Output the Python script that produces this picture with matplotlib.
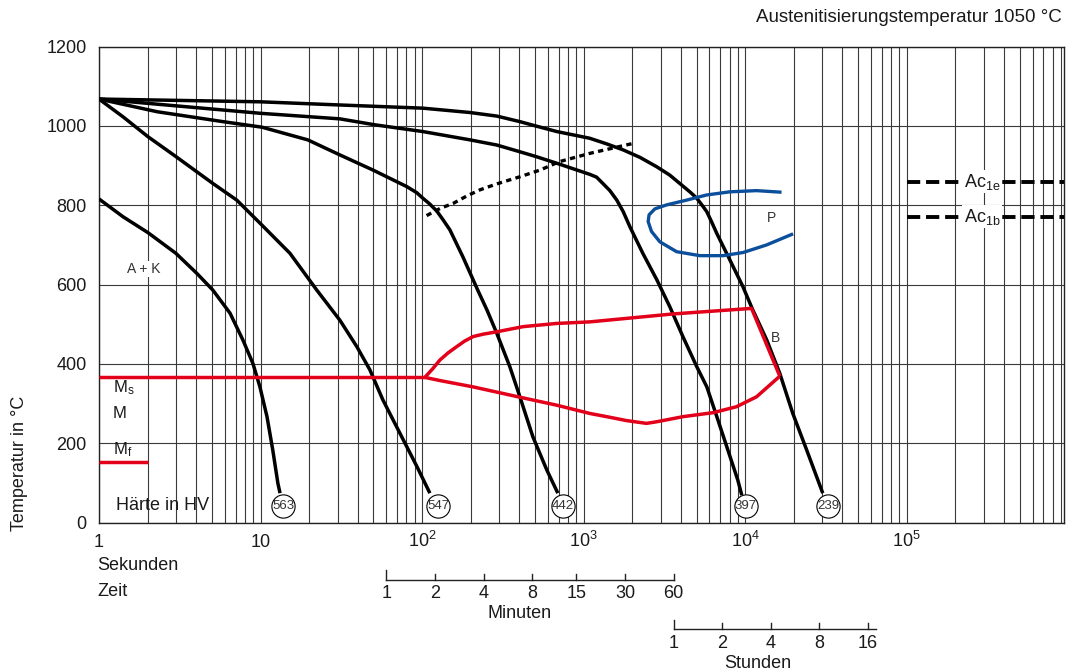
import numpy as np
import matplotlib
matplotlib.use("Agg")
import matplotlib.pyplot as plt
from matplotlib.ticker import FixedLocator, NullFormatter

plt.rcParams['font.family'] = ['Liberation Sans', 'DejaVu Sans']
plt.rcParams['mathtext.fontset'] = 'custom'
plt.rcParams['mathtext.rm'] = 'Liberation Sans'
plt.rcParams['mathtext.it'] = 'Liberation Sans:italic'
plt.rcParams['mathtext.bf'] = 'Liberation Sans:bold'

# ---------------- data (time in s, temperature in °C) ----------------
cool_239_t = [1, 10, 31, 101, 198, 290, 403, 506, 682, 1092, 1386, 1749, 2228, 2838, 3415,
              3936, 4540, 5010, 5480, 5780, 6180, 6670, 8040, 9670, 11140, 13600, 16370,
              19700, 24000, 30200]
cool_239_T = [1068, 1061, 1053, 1045, 1034, 1025, 1011, 1000, 986, 969, 955, 940, 921, 897, 876,
              855, 834, 818, 797, 784, 759, 729, 662, 595, 536, 460, 376,
              275, 183, 74]

cool_397_t = [1, 10, 31, 51, 101, 198, 290, 403, 506, 682, 1092, 1202, 1315, 1453, 1604, 1757,
              1932, 2323, 2838, 3415, 4111, 5012, 5786, 6670, 7690, 8995, 9520]
cool_397_T = [1068, 1032, 1018, 1003, 986, 965, 952, 935, 923, 906, 878, 871, 855, 837, 813, 784,
              746, 679, 612, 544, 469, 393, 342, 267, 191, 107, 69]

cool_442_t = [1, 2.29, 5.85, 10.2, 19.6, 31, 49.6, 80.5, 92.5, 101, 111.7, 123.6, 135, 148.6,
              178.8, 221, 252, 290, 349, 403, 485, 592, 692]
cool_442_T = [1068, 1036, 1011, 997, 965, 927, 889, 847, 832, 818, 803, 785, 763, 738,
              670, 586, 536, 477, 393, 317, 216, 132, 74]

cool_547_t = [1, 1.41, 2.01, 2.99, 5.07, 7.13, 10.2, 15.2, 22.3, 31, 39.5, 47.5, 57.2, 72.9,
              92.9, 111.7]
cool_547_T = [1068, 1023, 973, 923, 855, 813, 750, 679, 586, 510, 443, 385, 309, 225, 141, 74]

cool_563_t = [1, 1.41, 2.01, 2.99, 4.04, 5.07, 6.47, 7.78, 8.97, 9.91, 10.96, 11.9, 12.8, 13.2]
cool_563_T = [816, 771, 731, 679, 628, 586, 528, 460, 401, 342, 267, 183, 99, 74]

carbide_t = [106.6, 129, 156, 188, 228, 290, 403, 538, 707, 1092, 2018]
carbide_T = [774, 792, 805, 823, 839, 854, 872, 889, 910, 931, 956]

pearlite_t = [16780, 11750, 8030, 5760, 4330, 3260, 2760, 2540, 2507, 2630, 2960, 3760,
              5230, 7300, 9710, 13550, 19780]
pearlite_T = [833, 837, 834, 826, 813, 801, 791, 776, 759, 734, 708, 683,
              673, 673, 681, 700, 728]

bainite_upper_t = [104, 117, 129, 145, 163, 184, 207, 239, 290, 422, 679, 1092, 3580, 10940, 16370]
bainite_upper_T = [366, 389, 410, 428, 443, 458, 469, 475, 481, 494, 502, 506, 526, 540, 369]
bainite_lower_t = [16370, 11750, 8830, 6330, 4130, 2825, 2449, 1844, 1386, 1092, 679,
                   403, 207, 129, 104]
bainite_lower_T = [369, 317, 292, 277, 267, 254, 250, 257, 267, 275, 296,
                   316, 342, 358, 366]

ms_T, ms_t_end = 366, 104
mf_T, mf_t_end = 153, 2

ac1e_T, ac1b_T = 860, 771
ac_t_start = 1e5

hv_values = ['563', '547', '442', '397', '239']
hv_t = [13.8, 126, 747, 10090, 32600]
hv_T = 42

x_major = [1, 10, 1e2, 1e3, 1e4, 1e5]
x_major_labels = ['1', '10', r'$\mathregular{10^{2}}$', r'$\mathregular{10^{3}}$',
                  r'$\mathregular{10^{4}}$', r'$\mathregular{10^{5}}$']
y_ticks = [0, 200, 400, 600, 800, 1000, 1200]

minute_ticks = [1, 2, 4, 8, 15, 30, 60]
hour_ticks = [1, 2, 4, 8, 16]
hour_line_end = 18

# ---------------- figure ----------------
W, H = 1072, 672
fig = plt.figure(figsize=(W / 100, H / 100), dpi=100)
ax_l, ax_r, ax_b, ax_t = 99, 1064, 522.5, 46.7
ax = fig.add_axes([ax_l / W, (H - ax_b) / H, (ax_r - ax_l) / W, (ax_b - ax_t) / H])
ax.set_xscale('log')
ax.set_xlim(1, 9.4e5)
ax.set_ylim(0, 1200)

minor = [m * 10 ** e for e in range(0, 6) for m in range(2, 10)]
ax.xaxis.set_major_locator(FixedLocator(x_major))
ax.xaxis.set_minor_locator(FixedLocator(minor))
ax.xaxis.set_minor_formatter(NullFormatter())
ax.set_xticklabels(x_major_labels)
ax.set_yticks(y_ticks)
ax.tick_params(which='both', length=0)
ax.tick_params(axis='y', labelsize=13, pad=9, labelcolor='#1a1a1a')
ax.tick_params(axis='x', labelsize=13, pad=17.5, labelcolor='#1a1a1a')
for lab in ax.get_xticklabels():
    lab.set_verticalalignment('baseline')

ax.grid(True, which='both', axis='x', color='#3a3a3a', lw=0.8, zorder=0)
ax.grid(True, which='major', axis='y', color='#3a3a3a', lw=0.8, zorder=0)
ax.set_axisbelow(True)
for s in ax.spines.values():
    s.set_color('#222')
    s.set_linewidth(1.0)

red = '#e2001a'
blue = '#0b4f9c'
lw_curve = 2.5
line_kw = dict(solid_joinstyle='round', solid_capstyle='butt', zorder=3)

for t, T in [(cool_239_t, cool_239_T), (cool_397_t, cool_397_T), (cool_442_t, cool_442_T),
             (cool_547_t, cool_547_T), (cool_563_t, cool_563_T)]:
    ax.plot(t, T, color='black', lw=lw_curve, **line_kw)

ax.plot(carbide_t, carbide_T, color='black', lw=2.4, linestyle=(0, (1.6, 1.3)),
        dash_capstyle='butt', zorder=3)

ax.plot(pearlite_t, pearlite_T, color=blue, lw=2.4, **line_kw)

ax.plot([1, ms_t_end], [ms_T, ms_T], color=red, lw=2.5, **line_kw)
ax.plot(bainite_upper_t, bainite_upper_T, color=red, lw=2.5, **line_kw)
ax.plot(bainite_lower_t, bainite_lower_T, color=red, lw=2.5, **line_kw)
ax.plot([1, mf_t_end], [mf_T, mf_T], color=red, lw=2.5, **line_kw)

# Ac lines
for T in (ac1e_T, ac1b_T):
    ax.plot([ac_t_start, 9.4e5], [T, T], color='black', lw=2.8,
            linestyle=(0, (3.4, 1.5)), dash_capstyle='butt', zorder=3, clip_on=False)
ax.text(2.25e5, ac1e_T, r'$\mathregular{Ac_{1e}}$', fontsize=13, va='center', ha='left',
        color='#1a1a1a', zorder=4,
        bbox=dict(facecolor='white', edgecolor='none', pad=1.0))
ax.text(2.25e5, ac1b_T, r'$\mathregular{Ac_{1b}}$', fontsize=13, va='center', ha='left',
        color='#1a1a1a', zorder=4,
        bbox=dict(facecolor='white', edgecolor='none', pad=1.0))

# hardness circles
ax.scatter(hv_t, [hv_T] * len(hv_t), s=280, facecolor='white', edgecolor='black',
           linewidths=0.8, zorder=5, clip_on=False)
for t, v in zip(hv_t, hv_values):
    ax.text(t, hv_T, v, fontsize=9.5, ha='center', va='center', color='#333', zorder=6)

# region labels
ax.text(1.88, 639, 'A + K', fontsize=10, ha='center', va='center', color='#333', zorder=4,
        bbox=dict(facecolor='white', edgecolor='none', pad=0.5))
ax.text(14550, 769, 'P', fontsize=10, ha='center', va='center', color='#333', zorder=4)
ax.text(15460, 466, 'B', fontsize=10, ha='center', va='center', color='#333', zorder=4)
ax.text(1.216, 339, r'$\mathregular{M_s}$', fontsize=12, ha='left', va='center', color='#1a1a1a', zorder=4)
ax.text(1.216, 274, 'M', fontsize=12, ha='left', va='center', color='#1a1a1a', zorder=4)
ax.text(1.216, 183, r'$\mathregular{M_f}$', fontsize=12, ha='left', va='center', color='#1a1a1a', zorder=4)
ax.text(1.274, 44, 'Härte in HV', fontsize=13, ha='left', va='center', color='#1a1a1a', zorder=4)

# secondary time scales (minutes, hours)
trans = ax.get_xaxis_transform()
def ya(py):
    return (ax_b - py) / (ax_b - ax_t)

kw = dict(transform=trans, clip_on=False, color='#222', lw=1.0)
ax.plot([minute_ticks[0] * 60, minute_ticks[-1] * 60], [ya(580), ya(580)], **kw)
for i, m in enumerate(minute_ticks):
    top = 570 if i == 0 else 574
    ax.plot([m * 60, m * 60], [ya(580), ya(top)], **kw)
    ax.text(m * 60, ya(594), str(m), transform=trans, fontsize=13, ha='center', va='center',
            color='#1a1a1a')
ax.text(400, ya(613), 'Minuten', transform=trans, fontsize=13, ha='center', va='center',
        color='#1a1a1a')

ax.plot([hour_ticks[0] * 3600, hour_line_end * 3600], [ya(629), ya(629)], **kw)
for i, h in enumerate(hour_ticks):
    top = 619.5 if i == 0 else 623
    ax.plot([h * 3600, h * 3600], [ya(629), ya(top)], **kw)
    ax.text(h * 3600, ya(643), str(h), transform=trans, fontsize=13, ha='center', va='center',
            color='#1a1a1a')
ax.text(12000, ya(664), 'Stunden', transform=trans, fontsize=13, ha='center', va='center',
        color='#1a1a1a')

fig.text(97 / W, 1 - 566 / H, 'Sekunden', fontsize=13, ha='left', va='center', color='#1a1a1a')
fig.text(97 / W, 1 - 591 / H, 'Zeit', fontsize=13, ha='left', va='center', color='#1a1a1a')
fig.text(20 / W, 1 - 531 / H, 'Temperatur in °C', fontsize=13, rotation=90, ha='center',
         va='bottom', color='#1a1a1a')
fig.text(1062 / W, 1 - 17 / H, 'Austenitisierungstemperatur 1050 °C', fontsize=13.5,
         ha='right', va='center', color='#1a1a1a')

fig.savefig('out.png', dpi=100)
